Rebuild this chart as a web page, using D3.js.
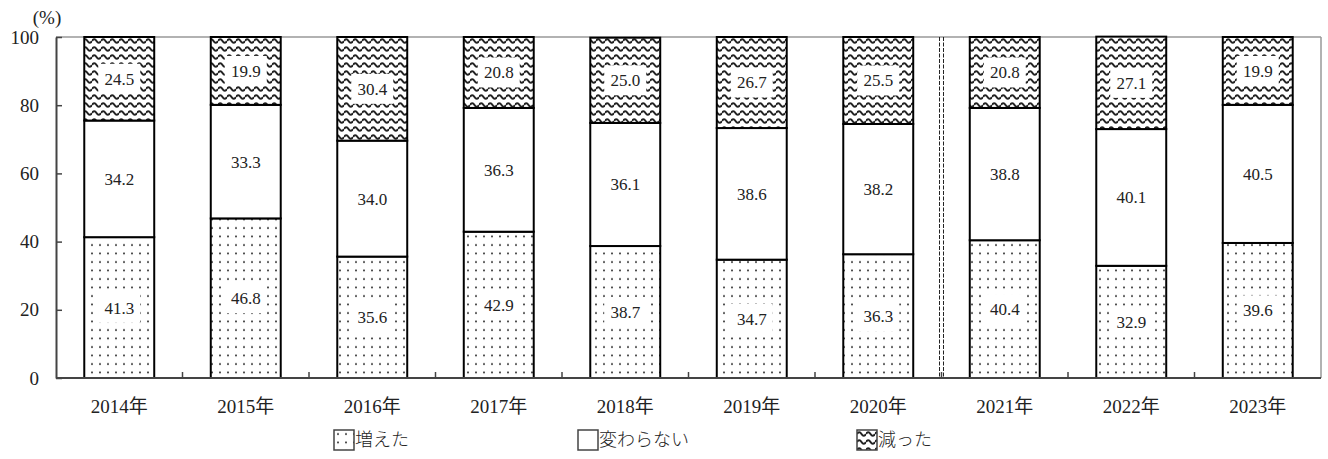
<!DOCTYPE html>
<html>
<head>
<meta charset="utf-8">
<script src="https://cdn.jsdelivr.net/npm/d3@7"></script>
<style>
  body { margin: 0; background: #fff; }
</style>
</head>
<body>
<script>
// chart data
var years = ["2014年", "2015年", "2016年", "2017年", "2018年", "2019年", "2020年", "2021年", "2022年", "2023年"];
var increased = [41.3, 46.8, 35.6, 42.9, 38.7, 34.7, 36.3, 40.4, 32.9, 39.6];
var unchanged = [34.2, 33.3, 34.0, 36.3, 36.1, 38.6, 38.2, 38.8, 40.1, 40.5];
var decreased = [24.5, 19.9, 30.4, 20.8, 25.0, 26.7, 25.5, 20.8, 27.1, 19.9];
var seriesNames = ["増えた", "変わらない", "減った"];
var yTicks = [0, 20, 40, 60, 80, 100];

var serif = "Liberation Serif, Noto Sans CJK JP";

window.onload = function() { drawChart(); };

function drawChart() {
  var width = 1328, height = 459;
  var margin = {top: 37, right: 7, bottom: 81, left: 56};
  var w = width - margin.left - margin.right,
      h = height - margin.top - margin.bottom;

  var svg = d3.select("body").append("svg")
      .attr("width", width)
      .attr("height", height);

  // patterns
  var defs = svg.append("defs");
  var dots = defs.append("pattern")
      .attr("id", "dots")
      .attr("patternUnits", "userSpaceOnUse")
      .attr("width", 8).attr("height", 8.5);
  dots.append("rect").attr("width", 8).attr("height", 8.5).attr("fill", "#fff");
  dots.append("circle").attr("cx", 4).attr("cy", 4).attr("r", 1).attr("fill", "#222");

  var waves = defs.append("pattern")
      .attr("id", "waves")
      .attr("patternUnits", "userSpaceOnUse")
      .attr("width", 9).attr("height", 8);
  waves.append("rect").attr("width", 9).attr("height", 8).attr("fill", "#fff");
  waves.append("path")
      .attr("d", "M0,4 Q2.25,0.3 4.5,4 Q6.75,7.7 9,4")
      .attr("fill", "none").attr("stroke", "#222").attr("stroke-width", 2);

  var fills = ["url(#dots)", "#fff", "url(#waves)"];

  var g = svg.append("g")
      .attr("transform", "translate(" + margin.left + "," + margin.top + ")");

  var x = d3.scaleBand().domain(years).range([0, w]).paddingInner(0.447).paddingOuter(0.2235);
  var y = d3.scaleLinear().domain([0, 100]).range([h, 0]);

  // stacked data
  var rows = years.map(function(d, i) {
    return {year: d, "増えた": increased[i], "変わらない": unchanged[i], "減った": decreased[i]};
  });
  var stack = d3.stack().keys(seriesNames)(rows);

  // plot frame (top/right)
  g.append("line").attr("x1", 0).attr("x2", w).attr("y1", 0).attr("y2", 0)
      .attr("stroke", "#999").attr("stroke-width", 1.5);
  g.append("line").attr("x1", w).attr("x2", w).attr("y1", 0).attr("y2", h)
      .attr("stroke", "#999").attr("stroke-width", 1.5);

  // bars
  var layer = g.selectAll(".layer").data(stack).enter().append("g")
      .attr("class", "layer");
  layer.each(function(s, si) {
    d3.select(this).selectAll("rect").data(s).enter().append("rect")
        .attr("x", function(d) { return x(d.data.year); })
        .attr("y", function(d) { return y(d[1]); })
        .attr("width", x.bandwidth())
        .attr("height", function(d) { return y(d[0]) - y(d[1]); })
        .attr("fill", fills[si])
        .attr("stroke", "#000")
        .attr("stroke-width", 2);
  });

  // value labels with white boxes
  layer.each(function(s) {
    var lab = d3.select(this).selectAll(".lab").data(s).enter().append("g")
        .attr("class", "lab")
        .attr("transform", function(d) {
          return "translate(" + (x(d.data.year) + x.bandwidth() / 2) + "," + y((d[0] + d[1]) / 2) + ")";
        });
    lab.append("rect")
        .attr("x", -21).attr("y", -15).attr("width", 42).attr("height", 30)
        .attr("fill", "#fff");
    lab.append("text")
        .attr("text-anchor", "middle")
        .attr("dy", "0.35em")
        .attr("font-family", serif)
        .attr("font-size", 17)
        .attr("fill", "#222")
        .text(function(d) { return (d[1] - d[0]).toFixed(1); });
  });

  // break marker between 2020 and 2021
  var bx = x(years[7]) - x.step() * x.paddingInner() / 2;
  [-2, 2].forEach(function(off) {
    g.append("line")
        .attr("x1", bx + off).attr("x2", bx + off)
        .attr("y1", 0).attr("y2", h)
        .attr("stroke", "#222").attr("stroke-width", 1)
        .attr("stroke-dasharray", "4,1.5");
  });

  // y axis
  var yAxis = d3.axisLeft(y).tickValues(yTicks).tickSizeInner(-6).tickSizeOuter(0).tickPadding(17);
  var ya = g.append("g").call(yAxis).attr("font-family", serif).attr("font-size", 19);
  ya.select(".domain").attr("stroke", "#444").attr("stroke-width", 2);
  ya.selectAll(".tick line").attr("stroke", "#444").attr("stroke-width", 1.5);
  ya.selectAll(".tick text").attr("fill", "#222");

  // x axis with ticks between bands
  g.append("line").attr("x1", 0).attr("x2", w).attr("y1", h).attr("y2", h)
      .attr("stroke", "#444").attr("stroke-width", 2);
  var xAxis = d3.axisBottom(x).tickSize(0).tickPadding(22);
  var xa = g.append("g").attr("transform", "translate(0," + h + ")").call(xAxis)
      .attr("font-family", serif).attr("font-size", 19);
  xa.select(".domain").remove();
  xa.selectAll(".tick text").attr("fill", "#222");
  g.selectAll(".sep").data(years.slice(1)).enter().append("line")
      .attr("class", "sep")
      .attr("x1", function(d) { return x(d) - x.step() * x.paddingInner() / 2; })
      .attr("x2", function(d) { return x(d) - x.step() * x.paddingInner() / 2; })
      .attr("y1", h).attr("y2", h - 6)
      .attr("stroke", "#444").attr("stroke-width", 1.5);

  // unit label
  svg.append("text")
      .attr("x", 47).attr("y", 24)
      .attr("text-anchor", "middle")
      .attr("font-family", serif)
      .attr("font-size", 19)
      .attr("fill", "#222")
      .text("(%)");

  // legend
  var legendX = [334, 578, 857];
  var legend = svg.selectAll(".legend").data(seriesNames).enter().append("g")
      .attr("class", "legend")
      .attr("transform", function(d, i) { return "translate(" + legendX[i] + ",430)"; });
  legend.append("rect")
      .attr("width", 20).attr("height", 20)
      .attr("fill", function(d, i) { return fills[i]; })
      .attr("stroke", "#444").attr("stroke-width", 1.5);
  legend.append("text")
      .attr("x", 21).attr("y", 10)
      .attr("dy", "0.35em")
      .attr("font-size", 18)
      .attr("font-family", "Noto Sans CJK JP")
      .attr("font-weight", 300)
      .attr("fill", "#222")
      .text(function(d) { return d; });
}
</script>
</body>
</html>
